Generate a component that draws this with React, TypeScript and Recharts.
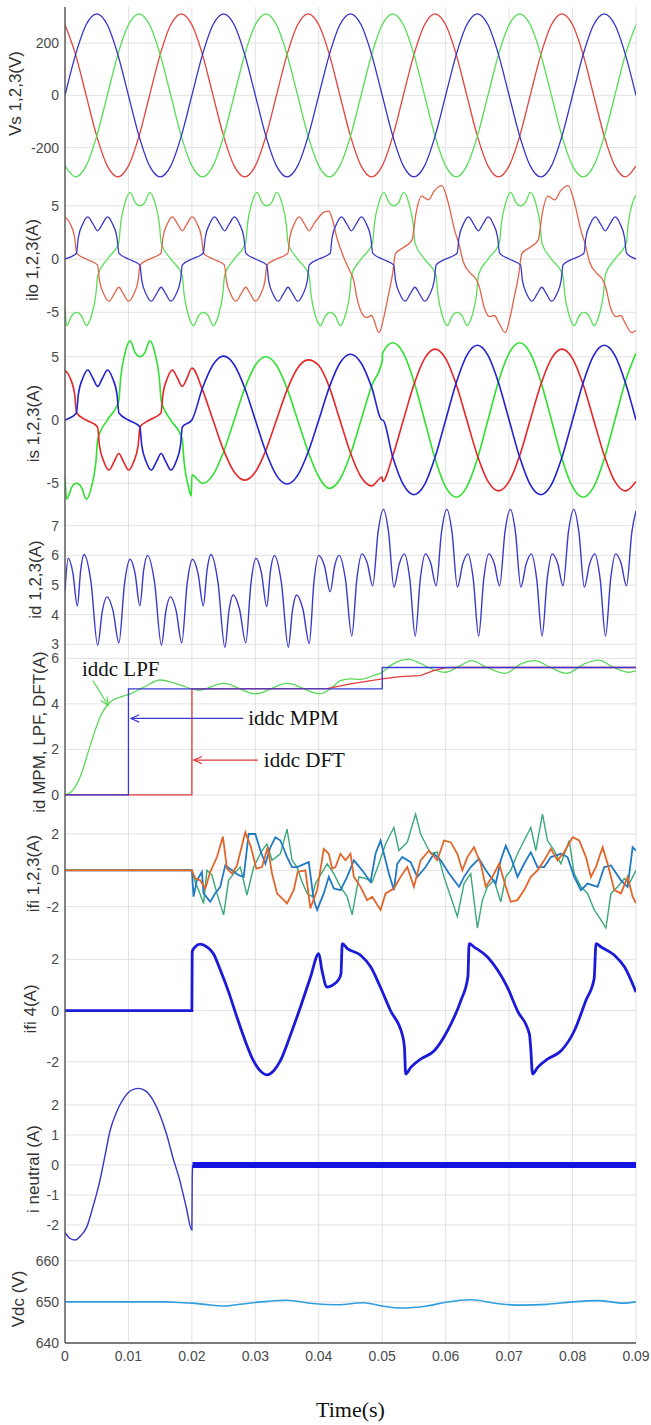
import React from 'react'
import { LineChart, Line, XAxis, YAxis, CartesianGrid, ReferenceLine } from 'recharts'

type Pt = [number, number]
type Row = { t: number; v: number }

const SANS = "'Liberation Sans', Arial, sans-serif"
const SERIF = "'Liberation Serif', 'Times New Roman', serif"
const AXIS = '#555'
const TICK = '#4a4a4a'
const LABEL = '#333'

const xTicks = [0, 0.01, 0.02, 0.03, 0.04, 0.05, 0.06, 0.07, 0.08, 0.09]

// times are in ms throughout, converted to seconds for the axis
const vsTime = [0, 1.67, 3.33, 5, 6.67, 8.33, 10, 11.67, 13.33, 15, 16.67, 18.33,
  20, 21.67, 23.33, 25, 26.67, 28.33, 30, 31.67, 33.33, 35, 36.67, 38.33,
  40, 41.67, 43.33, 45, 46.67, 48.33, 50, 51.67, 53.33, 55, 56.67, 58.33,
  60, 61.67, 63.33, 65, 66.67, 68.33, 70, 71.67, 73.33, 75, 76.67, 78.33,
  80, 81.67, 83.33, 85, 86.67, 88.33, 90]
const vsBlue = [0, 156, 270, 312, 270, 156, 0, -156, -270, -312, -270, -156,
  0, 156, 270, 312, 270, 156, 0, -156, -270, -312, -270, -156,
  0, 156, 270, 312, 270, 156, 0, -156, -270, -312, -270, -156,
  0, 156, 270, 312, 270, 156, 0, -156, -270, -312, -270, -156,
  0, 156, 270, 312, 270, 156, 0]
const vsRed = [270, 156, 0, -156, -270, -312, -270, -156, 0, 156, 270, 312,
  270, 156, 0, -156, -270, -312, -270, -156, 0, 156, 270, 312,
  270, 156, 0, -156, -270, -312, -270, -156, 0, 156, 270, 312,
  270, 156, 0, -156, -270, -312, -270, -156, 0, 156, 270, 312,
  270, 156, 0, -156, -270, -312, -270]
const vsGreen = [-270, -312, -270, -156, 0, 156, 270, 312, 270, 156, 0, -156,
  -270, -312, -270, -156, 0, 156, 270, 312, 270, 156, 0, -156,
  -270, -312, -270, -156, 0, 156, 270, 312, 270, 156, 0, -156,
  -270, -312, -270, -156, 0, 156, 270, 312, 270, 156, 0, -156,
  -270, -312, -270, -156, 0, 156, 270]

// load currents
const iloBlue: Pt[] = [
  [0, 0], [1.8, 0.55], [2.1, 2], [2.8, 3.3], [3.6, 3.95], [4.4, 3.3], [5.15, 2.65], [5.9, 3.3], [6.7, 3.95], [7.5, 3.3], [8.2, 2], [8.5, 0.55],
  [10, 0], [11.8, -0.55], [12.1, -2], [12.8, -3.3], [13.6, -3.95], [14.4, -3.3], [15.15, -2.65], [15.9, -3.3], [16.7, -3.95], [17.5, -3.3], [18.2, -2], [18.5, -0.55],
  [20, 0], [21.8, 0.55], [22.1, 2], [22.8, 3.3], [23.6, 3.95], [24.4, 3.3], [25.15, 2.65], [25.9, 3.3], [26.7, 3.95], [27.5, 3.3], [28.2, 2], [28.5, 0.55],
  [30, 0], [31.8, -0.55], [32.1, -2], [32.8, -3.3], [33.6, -3.95], [34.4, -3.3], [35.15, -2.65], [35.9, -3.3], [36.7, -3.95], [37.5, -3.3], [38.2, -2], [38.5, -0.55],
  [40, 0], [41.8, 0.55], [42.1, 2], [42.8, 3.3], [43.6, 3.95], [44.4, 3.3], [45.15, 2.65], [45.9, 3.3], [46.7, 3.95], [47.5, 3.3], [48.2, 2], [48.5, 0.55],
  [50, 0], [51.8, -0.55], [52.1, -2], [52.8, -3.3], [53.6, -3.95], [54.4, -3.3], [55.15, -2.65], [55.9, -3.3], [56.7, -3.95], [57.5, -3.3], [58.2, -2], [58.5, -0.55],
  [60, 0], [61.8, 0.55], [62.1, 2], [62.8, 3.3], [63.6, 3.95], [64.4, 3.3], [65.15, 2.65], [65.9, 3.3], [66.7, 3.95], [67.5, 3.3], [68.2, 2], [68.5, 0.55],
  [70, 0], [71.8, -0.55], [72.1, -2], [72.8, -3.3], [73.6, -3.95], [74.4, -3.3], [75.15, -2.65], [75.9, -3.3], [76.7, -3.95], [77.5, -3.3], [78.2, -2], [78.5, -0.55],
  [80, 0], [81.8, 0.55], [82.1, 2], [82.8, 3.3], [83.6, 3.95], [84.4, 3.3], [85.15, 2.65], [85.9, 3.3], [86.7, 3.95], [87.5, 3.3], [88.2, 2], [88.5, 0.55], [90, 0],
]
const iloRed: Pt[] = [
  [0, 3.95], [0.83, 3.3], [1.53, 2], [1.83, 0.55], [3.33, 0], [5.13, -0.55], [5.43, -2], [6.13, -3.3], [6.93, -3.95], [7.73, -3.3], [8.48, -2.65], [9.23, -3.3],
  [10.03, -3.95], [10.83, -3.3], [11.53, -2], [11.83, -0.55], [13.33, 0], [15.13, 0.55], [15.43, 2], [16.13, 3.3], [16.93, 3.95], [17.73, 3.3], [18.48, 2.65], [19.23, 3.3],
  [20.03, 3.95], [20.83, 3.3], [21.53, 2], [21.83, 0.55], [23.33, 0], [25.13, -0.55], [25.43, -2], [26.13, -3.3], [26.93, -3.95], [27.73, -3.3], [28.48, -2.65], [29.23, -3.3],
  [30.03, -3.95], [30.83, -3.3], [31.53, -2], [31.83, -0.55], [33.33, 0], [35.13, 0.55], [35.43, 2], [36.13, 3.3], [36.93, 3.95], [37.73, 3.3], [38.48, 2.65], [39.23, 3.3],
  [40.03, 3.95], [40.8, 4.4], [41.6, 4.5], [42.1, 3.8], [42.9, 1.9], [43.9, 0.2], [44.8, -1], [45.5, -2], [46, -3.6], [46.8, -5.1], [47.6, -5.5], [48.3, -5.3],
  [49.5, -6.9], [50.2, -5.6], [50.9, -3.6], [51.6, -1.5], [52.1, 0.5], [53.4, 1.1], [54.7, 1.8], [55.3, 4.2], [56.2, 5.9], [57.3, 5.55], [58.2, 6.4], [59.4, 6.9],
  [60.4, 5.3], [61.5, 2.5], [62, 1.6], [62.8, -0.3], [64, -1.4], [64.8, -1.9], [65.3, -2.6], [66.1, -4.6], [66.9, -5.4], [67.7, -5.3], [68.3, -5.9], [69.4, -6.9],
  [70.1, -5.6], [70.8, -3.6], [71.5, -1.5], [72, 0.5], [73.3, 1.1], [74.6, 1.8], [75.2, 4.2], [76.1, 5.9], [77.2, 5.55], [78.1, 6.4], [79.3, 6.9],
  [80.3, 5.3], [81.4, 2.5], [81.9, 1.6], [82.7, -0.3], [83.9, -1.4], [84.7, -1.9], [85.2, -2.6], [86, -4.6], [86.8, -5.4], [87.6, -5.3], [88.2, -5.9], [89.3, -6.9], [90, -6.7],
]
const iloGreen: Pt[] = [
  [0, -4.5], [0.27, -6.25], [1.07, -5.3], [1.82, -5], [2.57, -5.3], [3.37, -6.25], [4.17, -5.3], [4.87, -3.3], [5.17, -1.5], [6.67, 0], [8.47, 1.5], [8.77, 3.3],
  [9.47, 5.3], [10.27, 6.25], [11.07, 5.3], [11.82, 5], [12.57, 5.3], [13.37, 6.25], [14.17, 5.3], [14.87, 3.3], [15.17, 1.5], [16.67, 0], [18.47, -1.5], [18.77, -3.3], [19.47, -5.3],
  [20.27, -6.25], [21.07, -5.3], [21.82, -5], [22.57, -5.3], [23.37, -6.25], [24.17, -5.3], [24.87, -3.3], [25.17, -1.5], [26.67, 0], [28.47, 1.5], [28.77, 3.3],
  [29.47, 5.3], [30.27, 6.25], [31.07, 5.3], [31.82, 5], [32.57, 5.3], [33.37, 6.25], [34.17, 5.3], [34.87, 3.3], [35.17, 1.5], [36.67, 0], [38.47, -1.5], [38.77, -3.3], [39.47, -5.3],
  [40.27, -6.25], [41.07, -5.3], [41.82, -5], [42.57, -5.3], [43.37, -6.25], [44.17, -5.3], [44.87, -3.3], [45.17, -1.5], [46.67, 0], [48.47, 1.5], [48.77, 3.3],
  [49.47, 5.3], [50.27, 6.25], [51.07, 5.3], [51.82, 5], [52.57, 5.3], [53.37, 6.25], [54.17, 5.3], [54.87, 3.3], [55.17, 1.5], [56.67, 0], [58.47, -1.5], [58.77, -3.3], [59.47, -5.3],
  [60.27, -6.25], [61.07, -5.3], [61.82, -5], [62.57, -5.3], [63.37, -6.25], [64.17, -5.3], [64.87, -3.3], [65.17, -1.5], [66.67, 0], [68.47, 1.5], [68.77, 3.3],
  [69.47, 5.3], [70.27, 6.25], [71.07, 5.3], [71.82, 5], [72.57, 5.3], [73.37, 6.25], [74.17, 5.3], [74.87, 3.3], [75.17, 1.5], [76.67, 0], [78.47, -1.5], [78.77, -3.3], [79.47, -5.3],
  [80.27, -6.25], [81.07, -5.3], [81.82, -5], [82.57, -5.3], [83.37, -6.25], [84.17, -5.3], [84.87, -3.3], [85.17, -1.5], [86.67, 0], [88.47, 1.5], [88.77, 3.3], [89.47, 5.3], [90, 6],
]

// source currents after compensation starts (0.02 s)
const isTime = [20, 21.67, 23.33, 25, 26.67, 28.33, 30, 31.67, 33.33, 35, 36.67, 38.33,
  40, 41.67, 43.33, 45, 46.67, 48.33, 50, 50.05, 51.67, 53.33, 55, 56.67, 58.33,
  60, 61.67, 63.33, 65, 66.67, 68.33, 70, 71.67, 73.33, 75, 76.67, 78.33,
  80, 81.67, 83.33, 85, 86.67, 88.33, 90]
const isBlue = [0, 2.53, 4.37, 5.05, 4.37, 2.53, 0, -2.53, -4.37, -5.05, -4.37, -2.53,
  0, 2.6, 4.5, 5.2, 4.5, 2.6, 0, 0, -2.95, -5.11, -5.9, -5.11, -2.95,
  0, 2.95, 5.11, 5.9, 5.11, 2.95, 0, -2.95, -5.11, -5.9, -5.11, -2.95,
  0, 2.95, 5.11, 5.9, 5.11, 2.95, 0]
const isRed = [4.11, 2.38, 0, -2.38, -4.11, -4.75, -4.11, -2.38, 0, 2.38, 4.11, 4.75,
  4.3, 2.6, 0, -2.6, -4.5, -5.2, -4.5, -4.85, -2.8, 0, 2.8, 4.85, 5.6,
  4.85, 2.8, 0, -2.8, -4.85, -5.6, -4.85, -2.8, 0, 2.8, 4.85, 5.6,
  4.85, 2.8, 0, -2.8, -4.85, -5.6, -4.85]
const isGreen = [-4.33, -5, -4.33, -2.5, 0, 2.5, 4.33, 5, 4.33, 2.5, 0, -2.5,
  -4.5, -5.4, -4.68, -2.7, 0, 2.7, 4.68, 5.28, 6.1, 5.28, 3.05, 0, -3.05,
  -5.28, -6.1, -5.28, -3.05, 0, 3.05, 5.28, 6.1, 5.28, 3.05, 0, -3.05,
  -5.28, -6.1, -5.28, -3.05, 0, 3.05, 5.28]
const isGreenDip: Pt[] = [[19.9, -6]]

const idPts: Pt[] = [
  [0, 4.8], [0.5, 5.9], [1.22, 5.43], [1.95, 4.3], [2.48, 5.52], [3, 6.03], [4.08, 5.13], [5.15, 2.97], [5.88, 4.12], [6.6, 4.6], [7.55, 4.15], [8.5, 3.05],
  [9.38, 5.04], [10.25, 5.87], [11.03, 5.41], [11.8, 4.3], [12.4, 5.5], [13, 6], [14.1, 5.11], [15.2, 2.97], [15.9, 4.12], [16.6, 4.6], [17.5, 4.15], [18.4, 3.05],
  [19.25, 5.04], [20.1, 5.87], [20.95, 5.41], [21.8, 4.3], [22.4, 5.52], [23, 6.03], [24.1, 5.11], [25.2, 2.9], [25.85, 4.14], [26.5, 4.66], [27.5, 4.19], [28.5, 3.05],
  [29.3, 5.04], [30.1, 5.9], [30.95, 5.42], [31.8, 4.27], [32.4, 5.5], [33, 6], [34.1, 5.09], [35.2, 2.9], [35.85, 4.14], [36.5, 4.66], [37.5, 4.18], [38.5, 3.03],
  [39.25, 5.13], [40, 6], [40.9, 5.64], [41.8, 4.77], [42.5, 5.64], [43.2, 6], [44.2, 5.2], [45.2, 3.28], [46, 5.2], [46.8, 6.05], [47.65, 5.73], [48.5, 4.97],
  [49.35, 6.79], [50.2, 7.55], [51, 6.78], [51.85, 4.93], [52.7, 5.72], [53.5, 6.05], [54.35, 5.2], [55.2, 3.28], [56, 5.2], [56.8, 6.05], [57.65, 5.73], [58.5, 4.97],
  [59.35, 6.79], [60.2, 7.55], [61, 6.78], [61.85, 4.93], [62.7, 5.72], [63.5, 6.05], [64.35, 5.2], [65.2, 3.28], [66, 5.2], [66.8, 6.05], [67.65, 5.73], [68.5, 4.97],
  [69.35, 6.79], [70.2, 7.55], [71, 6.78], [71.85, 4.93], [72.7, 5.72], [73.5, 6.05], [74.35, 5.2], [75.2, 3.28], [76, 5.2], [76.8, 6.05], [77.65, 5.73], [78.5, 4.97],
  [79.35, 6.79], [80.2, 7.55], [81, 6.78], [81.85, 4.93], [82.7, 5.72], [83.5, 6.05], [84.35, 5.2], [85.2, 3.28], [86, 5.2], [86.8, 6.05], [87.65, 5.73], [88.5, 4.97],
  [89.35, 6.79], [90, 7.5],
]

const lpfPts: Pt[] = [
  [0, 0], [1.05, 0.15], [2.4, 0.8], [3.9, 2.1], [5.5, 3.4], [7.1, 4.07], [8.7, 4.3], [10.3, 4.44], [12.4, 4.73], [15, 5.05], [18, 4.85], [21, 4.6],
  [25, 4.9], [30, 4.44], [35, 4.9], [40.2, 4.44], [42, 4.7], [43.4, 5.02], [45, 5.1], [46.5, 5.08], [48.6, 5.24], [50, 5.39], [51.3, 5.68], [52.8, 5.9],
  [54.1, 5.97], [56, 5.78], [58.1, 5.5], [59.9, 5.39], [62.3, 5.68], [64.1, 5.9], [66.5, 5.6], [69.4, 5.34], [71.8, 5.75], [74.1, 5.9], [76.5, 5.6],
  [79.1, 5.34], [81.8, 5.75], [84.1, 5.92], [86.5, 5.6], [88.9, 5.39], [90, 5.45],
]
const mpmPts: Pt[] = [[0, 0], [10, 4.66], [50, 5.6], [90, 5.6]]
const dftPts: Pt[] = [
  [0, 0], [20, 0], [20.01, 4.66], [41.5, 4.68], [45, 4.88], [50, 5.1], [52.8, 5.2], [56, 5.24], [58.1, 5.46], [59.9, 5.58], [61, 5.6], [90, 5.6],
]

const ifiOrange: Pt[] = [
  [0, 0], [20, 0], [20.53, -0.45], [21.32, -0.55], [22.11, -1], [22.89, -0.09], [23.95, 0.73], [24.89, 1.85], [25.53, 0.09], [26.32, -0.18], [27.11, 0.27],
  [28.42, 2.09], [29.32, 1.27], [30.16, 0.09], [31.05, 0.18], [31.95, 1.27], [32.63, -0.18], [33.42, -1.27], [35, -1.82], [36.05, -1.09], [36.68, -0.09],
  [37.89, 0], [38.68, -2.09], [39.74, -1.09], [40.79, 1.18], [41.58, 0.91], [42.11, 0.09], [42.63, 0.18], [43.42, 0.91], [44.21, 0.55], [45, 0.91],
  [45.53, -0.36], [46.58, -0.91], [47.63, -1.64], [48.42, -1.45], [49.74, -2.18], [50.53, -1.27], [51.84, -1], [52.89, -0.36], [53.95, 0.18], [55, -0.91],
  [56.05, 0.55], [57.37, 1.09], [58.68, 0.55], [59.74, 1.64], [60.79, 1.55], [61.84, 0.91], [62.63, 0], [63.42, 0.73], [64.47, 1.27], [65.53, 0.36],
  [66.32, -0.91], [67.37, -0.36], [68.42, 0.36], [69.47, -0.91], [70.26, -1.73], [71.32, -1.64], [72.37, -1.09], [73.42, -0.36], [74.47, 0], [75.53, 0.55],
  [76.58, 1.18], [77.63, 0.55], [78.68, 1], [80, 1.82], [81.05, 1.64], [82.11, 0.73], [82.89, -0.36], [83.68, 0.18], [84.74, 1.27], [85.53, 0.36],
  [86.58, -1.09], [87.63, -1.27], [88.68, -0.36], [89.47, -1.45], [90, -1.82],
]
const ifiBlue: Pt[] = [
  [0, 0], [20, 0], [20.26, -1.45], [20.79, -0.55], [21.58, -0.09], [21.84, -1.27], [22.89, -1.73], [23.68, -1.27], [24.47, -0.91], [25.26, 0.27], [26.32, 0],
  [27.37, -0.27], [28.16, -0.36], [28.95, 2], [30, 2], [30.79, 1.09], [31.58, 0.36], [32.37, 1.27], [33.16, 1.82], [33.95, 1.64], [35, 0.73], [35.79, 0.18],
  [36.58, 0.18], [38.42, 0.45], [39.21, -1.64], [39.74, -2.18], [40.79, -1.27], [41.58, -0.36], [42.37, -1], [43.42, -1.09], [44.47, -0.36], [45.53, 0.55],
  [46.84, 0], [48.16, -0.64], [48.95, 0.91], [49.74, 1.64], [50.53, 0.55], [51.05, -0.18], [51.84, -1.09], [52.37, 0.36], [53.16, 0.73], [54.47, 0.45],
  [55.53, -0.36], [56.84, 0.18], [58.16, 0.91], [59.21, 0.55], [60.53, -0.18], [62.11, -0.91], [62.89, -0.36], [63.95, 0.18], [65.26, 0.64], [66.32, 0],
  [67.89, -0.73], [68.68, 0.55], [69.47, 1.36], [70.26, 0.73], [71.32, -0.36], [72.37, 0.36], [73.42, 1], [74.47, 0.18], [75.53, 0.18], [76.58, 0.73],
  [78.16, 0.91], [79.21, 0.73], [80.26, -0.36], [81.32, -1.09], [82.37, -0.73], [83.95, -0.91], [85, 0.18], [86.05, 0.27], [87.63, -0.55], [88.68, -0.91],
  [89.47, 1.27], [90, 1.09],
]
const ifiGreen: Pt[] = [
  [0, 0], [20, 0], [20.53, -0.64], [21.05, -1.09], [21.84, -1.82], [22.37, 0], [23.16, -0.27], [23.95, -1.27], [25, -2.45], [25.79, -0.55], [26.58, -0.18],
  [27.63, 0.18], [28.68, -1.36], [29.74, 0.18], [31.05, 1.09], [31.84, 1.45], [32.63, 0.55], [33.95, 0.91], [35, 2.27], [35.79, 0.55], [36.58, 0.18],
  [37.37, -0.64], [38.16, -1.27], [38.95, -1.45], [39.47, -0.73], [40.26, -0.27], [41.32, 0.36], [42.37, -0.18], [43.42, -0.91], [44.47, -1.45], [45.26, -2.45],
  [46.32, -0.36], [47.37, -0.45], [48.42, -0.64], [49.47, 0.36], [50.53, 1.45], [51.05, 1.82], [51.84, 2.36], [52.63, 1.09], [53.95, 1.55], [55.26, 3.1],
  [56.05, 2], [57.63, 0.91], [58.68, 1], [59.74, -0.36], [60.79, -1.45], [61.84, -2.55], [62.89, -0.73], [63.95, -0.18], [65, -3.18], [65.79, -1.64],
  [66.58, -0.91], [67.63, -0.55], [68.68, -1.73], [69.47, -0.36], [70.26, 0], [71.32, 0.91], [72.37, 1.64], [73.42, 2.36], [74.21, 1.09], [75.26, 3.09],
  [76.05, 1.64], [77.11, 1.09], [78.16, 0.36], [79.47, 1.64], [80.26, -0.18], [81.32, -0.91], [82.37, -1.27], [83.42, -2.18], [84.47, -2.73], [85.26, -3.18],
  [86.05, -1.27], [87.11, -0.91], [88.16, -0.45], [88.95, -0.73], [90, 0],
]

const ifi4Pts: Pt[] = [
  [0, 0], [20, 0], [20.05, 2.3], [20.5, 2.48], [21.3, 2.59], [22.4, 2.48], [23.4, 2.22], [24.5, 1.57], [25.8, 0.72], [27.1, -0.26], [28.4, -1.18],
  [29.7, -1.96], [31.05, -2.42], [31.8, -2.51], [32.9, -2.35], [33.95, -1.96], [35.5, -0.98], [37.1, 0.13], [38.7, 1.31], [40, 2.22], [40.5, 1.57],
  [41.3, 0.92], [42.1, 0.98], [43.2, 1.24], [43.5, 1.44], [43.7, 2.61], [44.5, 2.42], [46.6, 2.16], [48.2, 1.7], [49.7, 0.92], [51.3, 0], [53.2, -0.98],
  [53.5, -1.44], [53.7, -2.48], [54.5, -2.22], [56.05, -1.9], [58.2, -1.57], [60.3, -0.78], [62.4, 0.39], [63.5, 1.31], [63.7, 2.61], [64.5, 2.48],
  [66.6, 2.09], [68.2, 1.57], [69.7, 0.92], [71.3, 0], [73.2, -0.92], [73.4, -1.44], [73.7, -2.48], [74.5, -2.22], [76.05, -1.9], [78.2, -1.57],
  [80.3, -0.78], [82.1, 0.39], [83.4, 1.24], [83.7, 2.61], [84.5, 2.48], [86.6, 2.16], [88.2, 1.7], [90, 0.72],
]

const neutralPts: Pt[] = [
  [0, -2.25], [0.8, -2.45], [1.6, -2.5], [2.5, -2.35], [3.4, -2.08], [4.4, -1.4], [5.5, -0.52], [6.3, 0.3], [7.1, 1.14], [8.1, 1.75], [9.2, 2.2],
  [10.4, 2.48], [11.6, 2.55], [12.8, 2.45], [13.9, 2.15], [15, 1.65], [16, 1.03], [17, 0.25], [18.1, -0.52], [19.1, -1.4], [20, -2.17], [20.05, -0.5], [20.12, 0],
]
const neutralAfter: Pt[] = [[20.1, 0], [90, 0]]

const vdcPts: Pt[] = [
  [0, 650], [16, 650], [18, 649.85], [20, 649.7], [22, 649.4], [25, 649], [28, 649.5], [31, 650], [35, 650.4], [39, 649.6], [43, 649.3], [47, 649.8],
  [50, 649], [53, 648.5], [57, 649], [60, 649.9], [64, 650.5], [68, 649.6], [72, 649.2], [76, 649.4], [80, 650], [84, 650.3], [88, 649.7], [90, 650],
]

const toRows = (pts: Pt[]): Row[] => pts.map(([t, v]) => ({ t: t / 1000, v }))
const zip = (ts: number[], vs: number[]): Row[] => ts.map((t, i) => ({ t: t / 1000, v: vs[i] }))

type Series = { data: Row[]; color: string; width?: number; type?: 'monotone' | 'linear' | 'stepAfter' }

type PanelProps = {
  top: number
  bottom: number
  domain: [number, number]
  ticks: number[]
  label: string
  labelX: number
  series: Series[]
  showX?: boolean
  extra?: React.ReactNode
}

// each panel's svg gets some slack above and below so edge tick labels are not cut
const PAD = 12

function Panel({ top, bottom, domain, ticks, label, labelX, series, showX, extra }: PanelProps) {
  const plotH = bottom - top
  const axisH = showX ? 30 : 0
  const tickStyle = { fontSize: 14, fill: TICK, fontFamily: SANS }
  return (
    <div style={{ position: 'absolute', left: 0, top: top - PAD }}>
      <LineChart width={651} height={plotH + axisH + 2 * PAD} margin={{ top: PAD, right: 15, bottom: PAD, left: 0 }}>
        <CartesianGrid stroke="#e2e2e2" verticalValues={xTicks} horizontalValues={ticks} />
        <XAxis
          type="number" dataKey="t" domain={[0, 0.09]} ticks={xTicks} interval={0} allowDataOverflow
          hide={!showX} height={axisH}
          axisLine={{ stroke: AXIS, strokeWidth: 1.4 }} tickLine={false} tickSize={2} tickMargin={6} tick={tickStyle}
        />
        <YAxis
          type="number" domain={domain} ticks={ticks} interval={0} width={65} allowDataOverflow
          axisLine={{ stroke: AXIS, strokeWidth: 1.4 }} tickLine={false} tickSize={2} tickMargin={4} tick={tickStyle}
          label={{
            value: label, angle: -90, position: 'insideLeft', offset: labelX,
            style: { textAnchor: 'middle', fontSize: 17, fill: LABEL, fontFamily: SANS },
          }}
        />
        {series.map((s, i) => (
          <Line
            key={i}
            data={s.data}
            dataKey="v"
            type={s.type ?? 'monotone'}
            stroke={s.color}
            strokeWidth={s.width ?? 1.3}
            dot={false}
            activeDot={false}
            isAnimationActive={false}
          />
        ))}
        {extra}
      </LineChart>
    </div>
  )
}

// annotation arrow: segment drawn from tail to tip, open arrowhead at the tip
const arrowShape = (color: string, text: string, tx: number, ty: number) => (p: any) => {
  const { x1, y1, x2, y2 } = p
  const a = Math.atan2(y1 - y2, x1 - x2)
  const L = 9
  const w = 0.42
  const head = `${x2 + L * Math.cos(a + w)},${y2 + L * Math.sin(a + w)} ${x2},${y2} ${x2 + L * Math.cos(a - w)},${y2 + L * Math.sin(a - w)}`
  return (
    <g>
      <line x1={x1} y1={y1} x2={x2} y2={y2} stroke={color} strokeWidth={1.2} />
      <polyline points={head} fill="none" stroke={color} strokeWidth={1.2} />
      <text x={x1 + tx} y={y1 + ty} fontFamily={SERIF} fontSize={21} fill="#111">{text}</text>
    </g>
  )
}

const C = {
  vsBlue: '#3434c8', vsRed: '#e0443c', vsGreen: '#55dd55',
  iloBlue: '#3838c8', iloRed: '#e0634a', iloGreen: '#5ade5a',
  isBlue: '#2222d0', isRed: '#e62626', isGreen: '#30e030',
  id: '#3a3ac8',
  lpf: '#5ad85a', mpm: '#3a3ad0', dft: '#e03a3a',
  ifiO: '#e0662a', ifiB: '#2179c4', ifiG: '#3aa877',
  ifi4: '#1a1ad8',
  neutral: '#3636c4', neutralNoise: '#1414e0',
  vdc: '#2e9ee0',
}

export default function App() {
  const iloBlueRows = toRows(iloBlue)
  const iloRedRows = toRows(iloRed)
  const iloGreenRows = toRows(iloGreen)
  const isBlueRows = [...toRows(iloBlue.filter(p => p[0] < 20)), ...zip(isTime, isBlue)]
  const isRedRows = [...toRows(iloRed.filter(p => p[0] < 20)), ...zip(isTime, isRed)]
  const isGreenRows = [...toRows(iloGreen.filter(p => p[0] < 19.9)), ...toRows(isGreenDip), ...zip(isTime, isGreen)]

  return (
    <div style={{ position: 'absolute', left: 0, top: 0, width: 651, height: 1425, background: '#fff', overflow: 'hidden' }}>
      <Panel
        top={7} bottom={180} domain={[-324, 338]} ticks={[-200, 0, 200]} label="Vs 1,2,3(V)" labelX={15}
        series={[
          { data: zip(vsTime, vsRed), color: C.vsRed },
          { data: zip(vsTime, vsGreen), color: C.vsGreen },
          { data: zip(vsTime, vsBlue), color: C.vsBlue },
        ]}
      />
      <Panel
        top={180} bottom={340} domain={[-7.6, 7.42]} ticks={[-5, 0, 5]} label="ilo 1,2,3(A)" labelX={32}
        series={[
          { data: iloGreenRows, color: C.iloGreen },
          { data: iloRedRows, color: C.iloRed },
          { data: iloBlueRows, color: C.iloBlue },
        ]}
      />
      <Panel
        top={340} bottom={507} domain={[-6.87, 6.32]} ticks={[-5, 0, 5]} label="is 1,2,3(A)" labelX={33}
        series={[
          { data: isGreenRows, color: C.isGreen, width: 1.6 },
          { data: isRedRows, color: C.isRed, width: 1.6 },
          { data: isBlueRows, color: C.isBlue, width: 1.6 },
        ]}
      />
      <Panel
        top={507} bottom={652} domain={[2.74, 7.63]} ticks={[3, 4, 5, 6, 7]} label="id 1,2,3(A)" labelX={35}
        series={[{ data: toRows(idPts), color: C.id, width: 1.4 }]}
      />
      <Panel
        top={652} bottom={812} domain={[-0.75, 6.28]} ticks={[0, 2, 4, 6]} label="id MPM, LPF, DFT(A)" labelX={39}
        series={[
          { data: toRows(lpfPts), color: C.lpf },
          { data: toRows(dftPts), color: C.dft, type: 'linear' },
          { data: toRows(mpmPts), color: C.mpm, type: 'stepAfter' },
        ]}
        extra={
          <>
            <ReferenceLine
              segment={[{ x: 0.0044, y: 5.02 }, { x: 0.0068, y: 3.93 }]}
              ifOverflow="visible" shape={arrowShape(C.lpf, 'iddc LPF', -11, -5)}
            />
            <ReferenceLine
              segment={[{ x: 0.0281, y: 3.36 }, { x: 0.0104, y: 3.36 }]}
              ifOverflow="visible" shape={arrowShape(C.mpm, 'iddc MPM', 5, 7)}
            />
            <ReferenceLine
              segment={[{ x: 0.0304, y: 1.53 }, { x: 0.0203, y: 1.53 }]}
              ifOverflow="visible" shape={arrowShape(C.dft, 'iddc DFT', 6, 7)}
            />
          </>
        }
      />
      <Panel
        top={812} bottom={935} domain={[-3.56, 3.21]} ticks={[-2, 0, 2]} label="ifi 1,2,3(A)" labelX={33}
        series={[
          { data: toRows(ifiGreen), color: C.ifiG, type: 'linear', width: 1.4 },
          { data: toRows(ifiBlue), color: C.ifiB, type: 'linear', width: 1.8 },
          { data: toRows(ifiOrange), color: C.ifiO, type: 'linear', width: 1.8 },
        ]}
      />
      <Panel
        top={935} bottom={1083} domain={[-2.83, 2.95]} ticks={[-2, 0, 2]} label="ifi 4(A)" labelX={30}
        series={[{ data: toRows(ifi4Pts), color: C.ifi4, width: 2.8 }]}
      />
      <Panel
        top={1083} bottom={1255} domain={[-3, 2.73]} ticks={[-2, -1, 0, 1, 2]} label="i neutral (A)" labelX={33}
        series={[
          { data: toRows(neutralPts), color: C.neutral, width: 1.4 },
          { data: toRows(neutralAfter), color: C.neutralNoise, type: 'linear', width: 6 },
        ]}
      />
      <Panel
        top={1255} bottom={1343} domain={[640, 661.4]} ticks={[640, 650, 660]} label="Vdc (V)" labelX={18} showX
        series={[{ data: toRows(vdcPts), color: C.vdc, width: 1.6 }]}
      />
      <div
        style={{
          position: 'absolute', left: 65, width: 571, top: 1398, textAlign: 'center',
          fontFamily: SERIF, fontSize: 22, lineHeight: '24px', color: '#111',
        }}
      >
        Time(s)
      </div>
    </div>
  )
}
